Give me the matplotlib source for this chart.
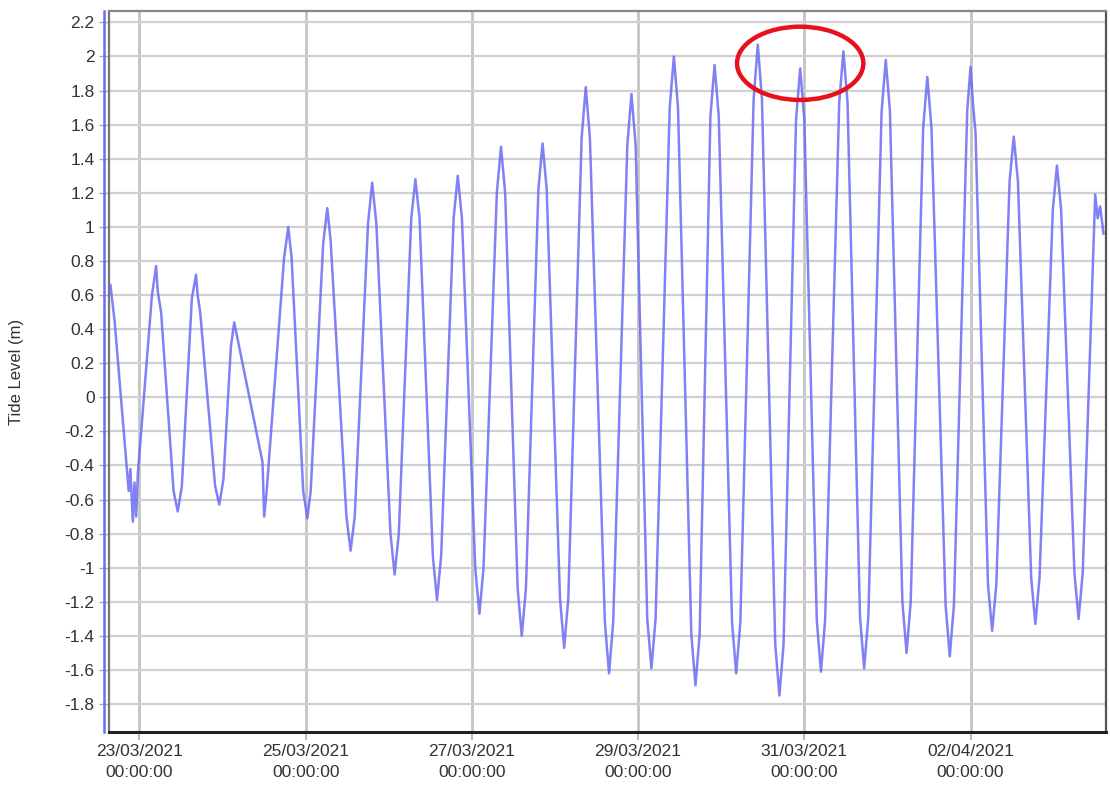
import numpy as np
import pandas as pd
import matplotlib
matplotlib.use('Agg')
import matplotlib.pyplot as plt
import matplotlib.dates as mdates
from matplotlib.patches import Ellipse

# tide record: highs / lows plus the shoulders either side
start = pd.Timestamp('2021-03-23 00:00:00')
days = [-0.37, -0.35, -0.30, -0.16, -0.13, -0.11, -0.08, -0.06, -0.04, -0.02,
        0.15, 0.20, 0.22, 0.26, 0.41, 0.46, 0.51, 0.63, 0.68, 0.70, 0.73,
        0.91, 0.96, 1.01, 1.10, 1.14, 1.48, 1.50, 1.53,
        1.74, 1.79, 1.83, 1.97, 2.02, 2.06, 2.21, 2.26, 2.30,
        2.49, 2.54, 2.59, 2.75, 2.80, 2.85, 3.02, 3.07, 3.12,
        3.27, 3.32, 3.37, 3.53, 3.58, 3.63, 3.78, 3.83, 3.88,
        4.04, 4.09, 4.14, 4.30, 4.35, 4.40, 4.55, 4.60, 4.65,
        4.80, 4.85, 4.90, 5.06, 5.11, 5.16, 5.32, 5.37, 5.42,
        5.60, 5.65, 5.70, 5.87, 5.92, 5.97, 6.11, 6.16, 6.21,
        6.38, 6.43, 6.48, 6.64, 6.69, 6.74, 6.87, 6.92, 6.97,
        7.13, 7.18, 7.23, 7.39, 7.44, 7.49, 7.65, 7.70, 7.75,
        7.90, 7.95, 8.00, 8.15, 8.20, 8.25, 8.42, 8.47, 8.52,
        8.67, 8.72, 8.77, 8.93, 8.98, 9.03, 9.18, 9.23, 9.28,
        9.43, 9.48, 9.53, 9.70, 9.75, 9.80, 9.96, 10.00, 10.03, 10.06,
        10.21, 10.26, 10.31, 10.47, 10.52, 10.57, 10.73, 10.78, 10.83,
        10.99, 11.04, 11.09, 11.25, 11.30, 11.35, 11.50, 11.53, 11.56, 11.60]
level = [0.60, 0.66, 0.45, -0.38, -0.55, -0.42, -0.73, -0.50, -0.70, -0.45,
         0.60, 0.77, 0.62, 0.50, -0.55, -0.67, -0.52, 0.58, 0.72, 0.60, 0.50,
         -0.52, -0.63, -0.48, 0.30, 0.44, -0.38, -0.70, -0.55,
         0.82, 1.00, 0.82, -0.55, -0.71, -0.55, 0.90, 1.11, 0.92,
         -0.70, -0.90, -0.70, 1.02, 1.26, 1.02, -0.80, -1.04, -0.80,
         1.05, 1.28, 1.05, -0.93, -1.19, -0.93, 1.05, 1.30, 1.05,
         -1.00, -1.27, -1.00, 1.20, 1.47, 1.20, -1.12, -1.40, -1.12,
         1.22, 1.49, 1.22, -1.18, -1.47, -1.18, 1.52, 1.82, 1.52,
         -1.32, -1.62, -1.32, 1.48, 1.78, 1.48, -1.30, -1.59, -1.30,
         1.70, 2.00, 1.70, -1.39, -1.69, -1.39, 1.65, 1.95, 1.65,
         -1.32, -1.62, -1.32, 1.75, 2.07, 1.75, -1.45, -1.75, -1.45,
         1.63, 1.93, 1.63, -1.31, -1.61, -1.31, 1.73, 2.03, 1.73,
         -1.29, -1.59, -1.29, 1.68, 1.98, 1.68, -1.20, -1.50, -1.20,
         1.58, 1.88, 1.58, -1.22, -1.52, -1.22, 1.68, 1.94, 1.72, 1.55,
         -1.10, -1.37, -1.10, 1.27, 1.53, 1.27, -1.06, -1.33, -1.06,
         1.10, 1.36, 1.10, -1.03, -1.30, -1.03, 1.19, 1.05, 1.12, 0.96]

tick_days = [0, 2, 4, 6, 8, 10]
y_ticks = np.round(np.arange(-1.8, 2.21, 0.2), 1)

# highlight around the 31/03 peaks
ring_day, ring_level = 7.95, 1.96
ring_w, ring_h = 1.52, 0.43

plt.rcParams['font.family'] = ['Liberation Sans', 'DejaVu Sans']

t = start + pd.to_timedelta(days, unit='D')

fig = plt.figure(figsize=(11.1, 7.95), dpi=100)
ax = fig.add_axes([108.5/1110, 1-732/795, (1106-108.5)/1110, (732-11)/795])

ax.plot(t, level, color='#6b6bf5', lw=1.8, alpha=0.85, zorder=3)

ax.set_xlim(start + pd.Timedelta(days=-0.373), start + pd.Timedelta(days=11.63))
ax.set_ylim(-1.964, 2.267)

ax.set_xticks([start + pd.Timedelta(days=d) for d in tick_days])
ax.xaxis.set_major_formatter(mdates.DateFormatter('%d/%m/%Y\n%H:%M:%S'))
ax.set_yticks(y_ticks)
ax.set_yticklabels([f'{v + 0:g}' for v in y_ticks])

ax.grid(axis='y', color='#d0d0d0', lw=1.6, zorder=0)
ax.grid(axis='x', color='#c4c4c4', lw=2.0, zorder=0)
ax.set_axisbelow(True)

ax.tick_params(axis='y', length=7, width=1, color='#aaaaaa', pad=3,
               labelsize=12.5, labelcolor='#333333')
ax.tick_params(axis='x', length=6, width=1.5, color='#bbbbbb', pad=3,
               labelsize=12.5, labelcolor='#333333')
for lab in ax.get_xticklabels():
    lab.set_linespacing(1.45)

ax.spines['left'].set_color('#777777')
ax.spines['top'].set_color('#888888')
ax.spines['right'].set_color('#555555')
ax.spines['bottom'].set_color('#222222')
for s in ax.spines.values():
    s.set_linewidth(1.6)
ax.spines['bottom'].set_linewidth(2.2)

# blue bar just left of the frame
ax.plot([-0.005, -0.005], [0, 1], transform=ax.transAxes, color='#6b6bf5',
        lw=1.8, clip_on=False, zorder=4)

ax.set_ylabel('Tide Level (m)', fontsize=12, color='#333333')
ax.yaxis.set_label_coords(-0.0847, 0.5)

cx = mdates.date2num(start) + ring_day
ax.add_patch(Ellipse((cx, ring_level), ring_w, ring_h, fill=False,
                     edgecolor='#e8101a', lw=3.2, zorder=5))

fig.savefig('out.png', dpi=100)
